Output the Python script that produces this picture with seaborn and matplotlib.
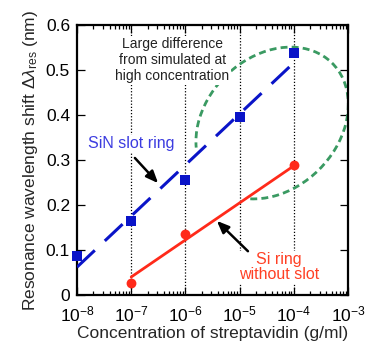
import numpy as np
import pandas as pd
import matplotlib
matplotlib.use("Agg")
import matplotlib.pyplot as plt
from matplotlib.patches import Arc
from matplotlib.ticker import FixedLocator, FixedFormatter, LogLocator, NullFormatter
import seaborn as sns

# ---- data ----
slot_conc = [1e-8, 1e-7, 1e-6, 1e-5, 1e-4]
slot_shift = [0.087, 0.165, 0.256, 0.396, 0.537]
si_conc = [1e-7, 1e-6, 1e-4]
si_shift = [0.027, 0.136, 0.29]
slot_fit_conc = [1e-8, 1e-4]
slot_fit_shift = [0.062, 0.516]
si_fit_conc = [1e-7, 1e-4]
si_fit_shift = [0.040, 0.287]
y_ticks = [0, 0.1, 0.2, 0.3, 0.4, 0.5, 0.6]
y_tick_labels = ["0", "0.1", "0.2", "0.3", "0.4", "0.5", "0.6"]
guide_conc = [1e-7, 1e-6, 1e-5, 1e-4]

sns.set_theme(style="ticks")
plt.rcParams["font.family"] = ["Liberation Sans", "DejaVu Sans"]
plt.rcParams["mathtext.fontset"] = "custom"
plt.rcParams["mathtext.rm"] = "Liberation Sans"
plt.rcParams["mathtext.it"] = "Liberation Sans:italic"
plt.rcParams["mathtext.default"] = "regular"

BLUE = "#0a14c8"
RED = "#ff2a1a"
GREEN = "#3a9a62"

fig = plt.figure(figsize=(3.72, 3.45), dpi=100)
ax = fig.add_axes([77 / 372, 50 / 345, 271 / 372, 270 / 345])

for c in guide_conc:
    ax.axvline(c, color="black", lw=0.9, ls=(0, (1, 1.5)), zorder=1)

sns.lineplot(x=slot_fit_conc, y=slot_fit_shift, ax=ax, color=BLUE, lw=2.2,
             dashes=False, zorder=3)
ax.lines[-1].set_dashes([8, 4.5])
sns.lineplot(x=si_fit_conc, y=si_fit_shift, ax=ax, color=RED, lw=2.0, zorder=3)

sns.scatterplot(x=slot_conc, y=slot_shift, ax=ax, marker="s", s=45, color=BLUE,
                edgecolor=BLUE, linewidth=0, zorder=4, clip_on=False)
sns.scatterplot(x=si_conc, y=si_shift, ax=ax, marker="o", s=50, color=RED,
                edgecolor=RED, linewidth=0, zorder=4, clip_on=False)

ax.set_xscale("log")
ax.set_xlim(1e-8, 1e-3)
ax.set_ylim(0, 0.6)
ax.yaxis.set_major_locator(FixedLocator(y_ticks))
ax.yaxis.set_major_formatter(FixedFormatter(y_tick_labels))
ax.xaxis.set_major_locator(LogLocator(base=10, numticks=10))
ax.xaxis.set_minor_locator(LogLocator(base=10, subs=np.arange(2, 10), numticks=20))
ax.xaxis.set_minor_formatter(NullFormatter())

ax.tick_params(which="both", direction="in", top=True, right=True, labelsize=12.5,
               width=0.9, colors="black")
ax.tick_params(which="major", length=6)
ax.tick_params(which="minor", length=3)
ax.tick_params(axis="x", pad=7)
ax.tick_params(axis="y", pad=5)
for s in ax.spines.values():
    s.set_linewidth(1.6)
    s.set_color("black")

ax.set_xlabel("Concentration of streptavidin (g/ml)", fontsize=12.5, labelpad=1)
ax.set_ylabel(r"Resonance wavelength shift $\Delta\mathit{\lambda}_{res}$ (nm)",
              fontsize=12.5, labelpad=4)

# ellipse highlight (axes-fraction coordinates)
arc = Arc((0.72, 0.637), 0.627, 0.489, angle=45, theta1=-151, theta2=153,
          transform=ax.transAxes, color=GREEN, lw=2.0, ls=(0, (2.5, 1.5)), zorder=2)
ax.add_patch(arc)

ax.text(5.7e-7, 0.522, "Large difference\nfrom simulated at\nhigh concentration",
        ha="center", va="center", fontsize=10, linespacing=1.2, color="#222222",
        bbox=dict(facecolor="white", edgecolor="none", pad=1), zorder=2)
ax.text(1.0e-7, 0.336, "SiN slot ring", ha="center", va="center", fontsize=11.5,
        color="#3c3ce0", bbox=dict(facecolor="white", edgecolor="none", pad=1), zorder=2)
ax.text(5.4e-5, 0.062, "Si ring\nwithout slot", ha="center", va="center", fontsize=11.5,
        color="#ff4025", linespacing=1.0,
        bbox=dict(facecolor="white", edgecolor="none", pad=1), zorder=2)

ax.annotate("", xy=(3.4e-7, 0.244), xytext=(1.08e-7, 0.309),
            arrowprops=dict(arrowstyle="-|>,head_length=0.6,head_width=0.25",
                            color="black", lw=1.8), zorder=5)
ax.annotate("", xy=(3.5e-6, 0.169), xytext=(1.55e-5, 0.093),
            arrowprops=dict(arrowstyle="-|>,head_length=0.6,head_width=0.25",
                            color="black", lw=1.8), zorder=5)

fig.savefig("out.png", dpi=100)
